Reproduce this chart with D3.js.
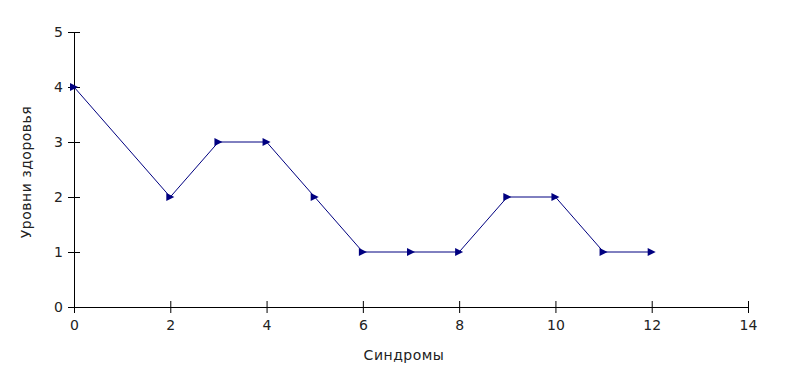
<!DOCTYPE html>
<html><head><meta charset="utf-8">
<script src="https://cdn.jsdelivr.net/npm/d3@7"></script>
<style>body{margin:0;background:#fff}svg{display:block}text{font-family:"DejaVu Sans",sans-serif;font-size:14px;fill:#222}</style>
</head><body>
<script>
const xValues = [0, 2, 3, 4, 5, 6, 7, 8, 9, 10, 11, 12];
const yValues = [4, 2, 3, 3, 2, 1, 1, 1, 2, 2, 1, 1];
const xTicks = [0, 2, 4, 6, 8, 10, 12, 14];
const yTicks = [0, 1, 2, 3, 4, 5];
const xTitle = "Синдромы";
const yTitle = "Уровни здоровья";

const W = 788, H = 368;
const svg = d3.select("body").append("svg").attr("width", W).attr("height", H);
const x = d3.scaleLinear().domain([0, 14]).range([74, 748]);
const y = d3.scaleLinear().domain([0, 5]).range([307, 32]);

const gx = svg.append("g").attr("transform", "translate(0,307)")
  .call(d3.axisBottom(x).tickValues(xTicks).tickSize(6).tickPadding(5).tickFormat(d3.format("d")));
gx.selectAll(".tick line").attr("y1", -6).attr("y2", 6);
const gy = svg.append("g").attr("transform", "translate(74,0)")
  .call(d3.axisLeft(y).tickValues(yTicks).tickSize(6).tickPadding(5).tickFormat(d3.format("d")));
gy.selectAll(".tick line").attr("x1", -6).attr("x2", 6);
svg.selectAll(".domain").attr("stroke", "#000");
svg.selectAll(".tick line").attr("stroke", "#000");
svg.selectAll(".tick text").style("font-size", "14px").attr("fill", "#222")
  .style("font-family", '"DejaVu Sans",sans-serif');
gx.selectAll(".tick text").attr("dy", "0.85em");

const pts = xValues.map((v, i) => [v, yValues[i]]);
svg.append("path").datum(pts)
  .attr("fill", "none").attr("stroke", "#000080").attr("stroke-width", 1)
  .attr("d", d3.line().x(d => x(d[0])).y(d => y(d[1])));

svg.append("g").selectAll("path").data(pts).join("path")
  .attr("transform", d => `translate(${x(d[0])},${y(d[1])})`)
  .attr("d", "M-4,-4L4,0L-4,4Z")
  .attr("fill", "#000080");

svg.append("text").attr("x", 404).attr("y", 360).attr("text-anchor", "middle")
  .style("letter-spacing", "0.5px").text(xTitle);
svg.append("text").attr("transform", "translate(31,172) rotate(-90)").attr("text-anchor", "middle")
  .style("letter-spacing", "0.5px").text(yTitle);
</script>
</body></html>
